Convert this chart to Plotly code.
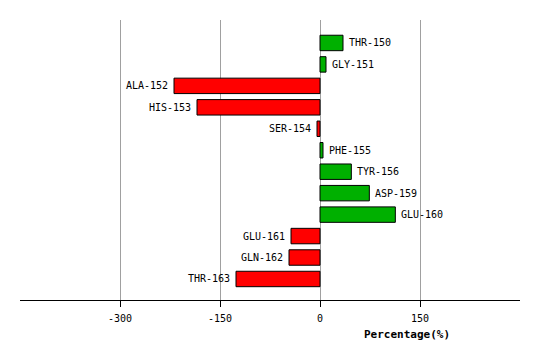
import plotly.graph_objects as go

residues = ["THR-150", "GLY-151", "ALA-152", "HIS-153", "SER-154", "PHE-155",
            "TYR-156", "ASP-159", "GLU-160", "GLU-161", "GLN-162", "THR-163"]
percentages = [34.5, 9, -219, -184.5, -4.5, 4.5, 47, 74, 113, -43.5, -46.5, -126]
tick_values = [-300, -150, 0, 150]
tick_labels = ["-300", "-150", "0", "150"]

colors = ["#00b000" if v >= 0 else "#ff0000" for v in percentages]

fig = go.Figure()
fig.add_trace(go.Bar(
    x=percentages, y=residues, orientation="h",
    marker=dict(color=colors, line=dict(color="black", width=1)),
    width=0.72, showlegend=False, hoverinfo="x+y",
))

font_mono = "DejaVu Sans Mono"
for name, v in zip(residues, percentages):
    fig.add_annotation(
        x=v, y=name, text=name, showarrow=False,
        xanchor="left" if v >= 0 else "right",
        xshift=4 if v >= 0 else -4,
        font=dict(family=font_mono, size=10, color="black"),
    )

fig.add_annotation(
    x=(407 - 20) / 500, y=(300 - 334) / 280, xref="paper", yref="paper",
    text="<b>Percentage(%)</b>", showarrow=False,
    xanchor="center", yanchor="middle",
    font=dict(family=font_mono, size=11, color="black"),
)

fig.update_layout(
    width=532, height=352,
    margin=dict(l=12, r=20, t=12, b=60),
    paper_bgcolor="white", plot_bgcolor="white",
    xaxis=dict(
        range=[-450, 300], tickvals=tick_values, ticktext=tick_labels,
        showgrid=True, gridcolor="#a0a0a0", gridwidth=1,
        zeroline=False, showline=True, linecolor="black", linewidth=1,
        ticks="outside", ticklen=6, tickcolor="black",
        ticklabelstandoff=3,
        tickfont=dict(family=font_mono, size=10, color="black"),
        fixedrange=True,
    ),
    yaxis=dict(
        range=[11.98, -1.07], showticklabels=False, showgrid=False,
        zeroline=False, showline=False, ticks="", fixedrange=True,
    ),
)

fig.write_html("out.html")
